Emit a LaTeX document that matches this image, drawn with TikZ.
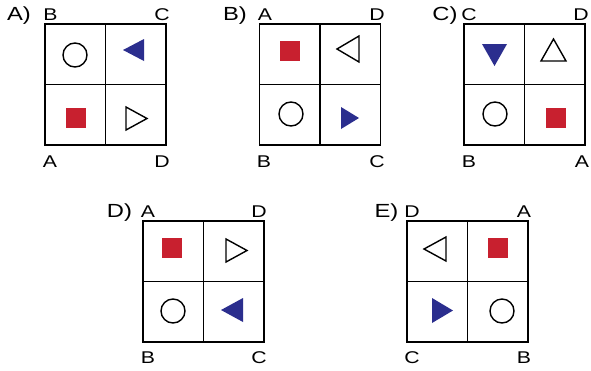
\documentclass[tikz,border=0pt]{standalone}
\usepackage{fontspec}
\setmainfont{Liberation Sans}
\newfontfamily\widefont[FakeStretch=1.25]{Liberation Sans}
\definecolor{cred}{HTML}{C8202F}
\definecolor{cblue}{HTML}{2B2E8E}
\begin{document}
\begin{tikzpicture}[x=1pt,y=-1pt,
  gridline/.style={line width=1.8pt,black},
  outl/.style={line width=1.4pt,black,line join=miter},
  bluetri/.style={fill=cblue},
  redsq/.style={fill=cred},
  corner/.style={font=\widefont\fontsize{17}{19}\selectfont,anchor=base,inner sep=0pt},
  plabel/.style={font=\widefont\fontsize{19}{21}\selectfont,anchor=base,inner sep=0pt},
  pics/panel/.style={code={
    \draw[gridline] (0,0) rectangle (121,121);
    \draw[gridline] (60.5,0) -- (60.5,121);
    \draw[gridline] (0,60.5) -- (121,60.5);
  }}]
\useasboundingbox (0,0) rectangle (591,370);
\fill[white] (0,0) rectangle (591,370);

% ---- Panel A
\pic at (45,24) {panel};
\node[plabel] (la) at (19,20) {A)};
\node[corner] (aB) at (50.5,20) {B};
\node[corner] (aC) at (162,20) {C};
\node[corner] (aA) at (50,167) {A};
\node[corner] (aD) at (162,167) {D};
\draw[outl] (75,55) circle (12);
\fill[bluetri] (123,50) -- (144,39) -- (144,61) -- cycle;
\fill[redsq] (66,108) rectangle (86,128);
\draw[outl] (147,118.5) -- (126,107) -- (126,130) -- cycle;

% ---- Panel B
\pic at (259.5,24) {panel};
\node[plabel] (lb) at (235,20) {B)};
\node[corner] (bA) at (265,20) {A};
\node[corner] (bD) at (377,20) {D};
\node[corner] (bB) at (264,167) {B};
\node[corner] (bC) at (377,167) {C};
\fill[redsq] (280,41) rectangle (300,61);
\draw[outl] (337,49) -- (359,36) -- (359,62) -- cycle;
\draw[outl] (291,114) circle (12);
\fill[bluetri] (359,118) -- (341,107) -- (341,129) -- cycle;

% ---- Panel C
\pic at (464,24) {panel};
\node[plabel] (lc) at (445,20) {C)};
\node[corner] (cC) at (469,20) {C};
\node[corner] (cD) at (581,20) {D};
\node[corner] (cB) at (469,167) {B};
\node[corner] (cA) at (582,167) {A};
\fill[bluetri] (482,44) -- (507,44) -- (494.5,66) -- cycle;
\draw[outl] (553.5,39) -- (541,61) -- (566,61) -- cycle;
\draw[outl] (495,114) circle (12);
\fill[redsq] (545.5,108) rectangle (565.5,128);

% ---- Panel D
\pic at (143,221) {panel};
\node[plabel] (ld) at (119.5,217.5) {D)};
\node[corner] (dA) at (148,217.5) {A};
\node[corner] (dD) at (259,217.5) {D};
\node[corner] (dB) at (148,363) {B};
\node[corner] (dC) at (259,363) {C};
\fill[redsq] (162,238) rectangle (182,258);
\draw[outl] (247,250.5) -- (226,239) -- (226,262) -- cycle;
\draw[outl] (173,311) circle (12);
\fill[bluetri] (221,310) -- (243,298) -- (243,322) -- cycle;

% ---- Panel E
\pic at (407,221) {panel};
\node[plabel] (le) at (386.5,217.5) {E)};
\node[corner] (eD) at (412,217.5) {D};
\node[corner] (eA) at (524,217.5) {A};
\node[corner] (eC) at (412,363) {C};
\node[corner] (eB) at (524,363) {B};
\draw[outl] (424,249) -- (446,237) -- (446,261) -- cycle;
\fill[redsq] (488,238) rectangle (508,258);
\fill[bluetri] (453,310.5) -- (432,298) -- (432,323) -- cycle;
\draw[outl] (502,311) circle (12);
\end{tikzpicture}
\end{document}
